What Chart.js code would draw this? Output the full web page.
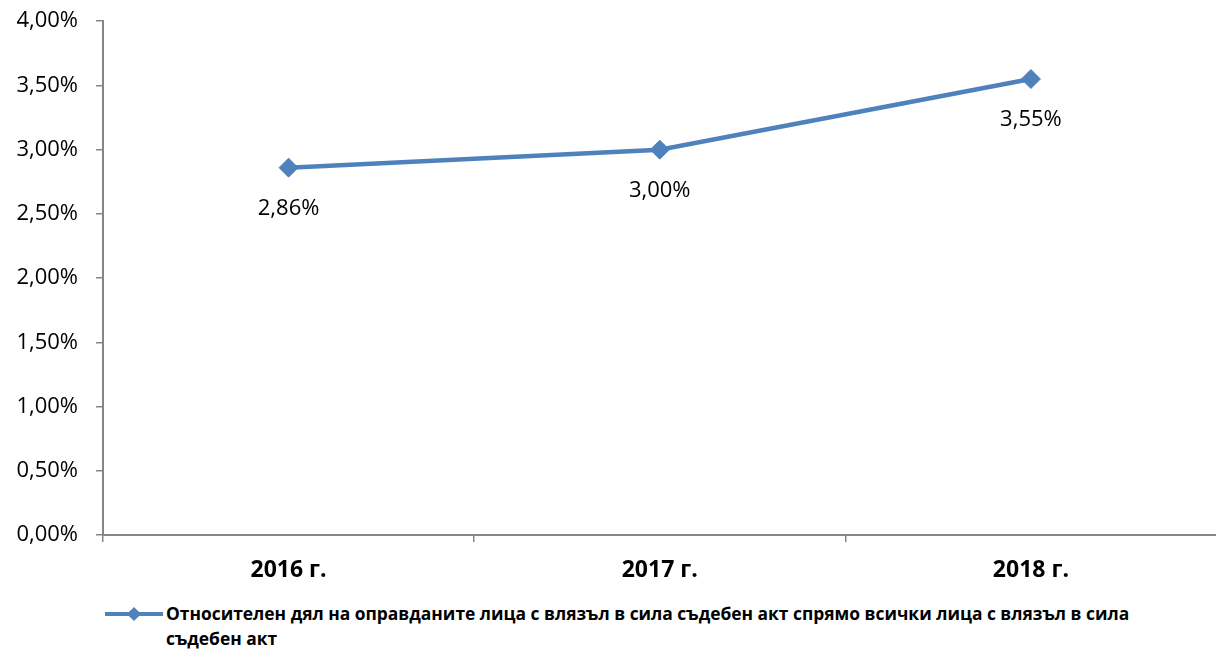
<!DOCTYPE html>
<html>
<head>
<meta charset="utf-8">
<script src="https://cdn.jsdelivr.net/npm/chart.js@4/dist/chart.umd.min.js"></script>
<style>
    html, body { margin: 0; padding: 0; background: #ffffff; }
    body { width: 1216px; height: 651px; position: relative; overflow: hidden; font-family: 'Open Sans', sans-serif; }
    .chart-box { position: absolute; left: 0; top: -10px; width: 1227px; height: 600px; }
    .legend { position: absolute; left: 105px; top: 601px; display: flex; align-items: flex-start; }
    .legend-mark { position: relative; width: 58px; height: 4px; background: #4F81BD; margin-top: 11px; flex: none; }
    .legend-mark::after {
        content: ''; position: absolute; left: 24px; top: -3px; width: 10px; height: 10px;
        background: #4F81BD; transform: rotate(45deg);
    }
    .legend-text { margin-left: 3px; font-weight: 700; font-size: 17.4px; line-height: 25px; color: #000; width: 985px; }
</style>
</head>
<body>
<div class="chart-box"><canvas id="shareChart"></canvas></div>
<div class="legend">
    <div class="legend-mark"></div>
    <div class="legend-text" id="legendText"></div>
</div>
<script>
const years = ['2016 г.', '2017 г.', '2018 г.'];
const shares = [2.86, 3.00, 3.55];
const yTicks = [0, 0.5, 1, 1.5, 2, 2.5, 3, 3.5, 4];
const seriesName = 'Относителен дял на оправданите лица с влязъл в сила съдебен акт спрямо всички лица с влязъл в сила съдебен акт';

const axisColor = '#868686';
const lineColor = '#4F81BD';

function pct(v) {
    return Number(v).toFixed(2).replace('.', ',') + '%';
}

// подписи под точките
const pointLabels = {
    id: 'pointLabels',
    afterDatasetsDraw(chart) {
        const ctx = chart.ctx;
        const meta = chart.getDatasetMeta(0);
        ctx.save();
        ctx.font = '22px "Open Sans"';
        ctx.fillStyle = '#000000';
        ctx.textAlign = 'center';
        ctx.textBaseline = 'middle';
        meta.data.forEach((pt, i) => {
            ctx.fillText(pct(shares[i]), pt.x, pt.y + 41);
        });
        ctx.restore();
    }
};

document.getElementById('legendText').textContent = seriesName;

new Chart(document.getElementById('shareChart'), {
    type: 'line',
    data: {
        labels: years,
        datasets: [{
            label: seriesName,
            data: shares,
            borderColor: lineColor,
            backgroundColor: lineColor,
            borderWidth: 4.5,
            tension: 0,
            pointStyle: 'rectRot',
            pointRadius: 9.5,
            pointBorderWidth: 1,
            pointBackgroundColor: lineColor,
            pointBorderColor: lineColor
        }]
    },
    options: {
        responsive: true,
        maintainAspectRatio: false,
        animation: false,
        layout: { padding: { top: 10, left: 0, right: 0, bottom: 0 } },
        plugins: {
            legend: { display: false },
            tooltip: { enabled: false }
        },
        scales: {
            x: {
                offset: true,
                grid: { offset: true, drawOnChartArea: false, drawTicks: true, tickLength: 7, color: axisColor, lineWidth: 1.5 },
                border: { color: axisColor, width: 2 },
                ticks: { color: '#000000', padding: 15, font: { family: 'Open Sans', size: 23, weight: 'bold' } },
                afterFit(scale) { scale.height = 55; }
            },
            y: {
                min: 0,
                max: 4,
                afterBuildTicks(scale) { scale.ticks = yTicks.map(v => ({ value: v })); },
                grid: { drawOnChartArea: false, drawTicks: true, tickLength: 7, color: axisColor, lineWidth: 1.5 },
                border: { color: axisColor, width: 2 },
                ticks: { color: '#000000', padding: 18, font: { family: 'Open Sans', size: 22 }, callback: v => pct(v) },
                afterFit(scale) { scale.width = 103; }
            }
        }
    },
    plugins: [pointLabels]
});
</script>
</body>
</html>
